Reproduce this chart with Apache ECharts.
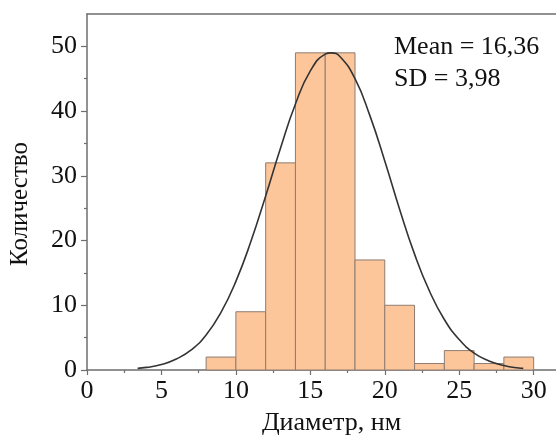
<!DOCTYPE html>
<html>
<head>
<meta charset="utf-8">
<script src="https://cdn.jsdelivr.net/npm/echarts@6/dist/echarts.min.js"></script>
<style>html,body{margin:0;padding:0;background:#fff}#c{width:556px;height:435px}</style>
</head>
<body>
<div id="c"></div>
<script>
const binStart = [8, 10, 12, 14, 16, 18, 20, 22, 24, 26, 28];
const binEnd   = [10, 12, 14, 16, 18, 20, 22, 24, 26, 28, 30];
const counts   = [2, 9, 32, 49, 49, 17, 10, 1, 3, 1, 2];
const curveX = [3.4, 4, 5, 6, 7, 8, 9, 10, 11, 12, 13, 14, 15, 16, 16.4, 17, 18, 19, 20, 21, 22, 23, 24, 25, 26, 27, 28, 29, 29.3];
const curveY = [0.25, 0.4, 0.85, 1.7, 3.1, 5.4, 8.9, 13.7, 19.8, 26.9, 34.3, 41.1, 46.2, 48.8, 49, 48.4, 45.0, 39.3, 32.3, 24.8, 17.9, 12.2, 7.8, 4.7, 2.6, 1.4, 0.7, 0.3, 0.25];
const xMajor = [0, 5, 10, 15, 20, 25, 30];
const xMinor = [2.5, 7.5, 12.5, 17.5, 22.5, 27.5];
const yMajor = [0, 10, 20, 30, 40, 50];
const yMinor = [5, 15, 25, 35, 45];
const xName = 'Диаметр, нм';
const yName = 'Количество';
const statLines = ['Mean = 16,36', 'SD = 3,98'];

const bins = binStart.map((s, i) => [s, binEnd[i], counts[i]]);
const curve = curveX.map((x, i) => [x, curveY[i]]);

const FONT = '"Liberation Serif", "Times New Roman", serif';
const AXC = '#6e6e6e';
const chart = echarts.init(document.getElementById('c'), null, {renderer: 'canvas'});
chart.setOption({
  animation: false,
  grid: {left: 87, top: 14, right: 0, bottom: 65, containLabel: false, outerBoundsMode: 'none'},
  xAxis: [
    {type: 'value', min: 0, max: 31.5, position: 'bottom',
     name: xName, nameLocation: 'middle', nameGap: 40,
     nameTextStyle: {fontFamily: FONT, fontSize: 26, color: '#111', padding: [0, 0, 0, 20]},
     axisLine: {show: true, lineStyle: {color: AXC, width: 1.5}},
     axisTick: {show: true, inside: false, length: 5, customValues: xMajor, lineStyle: {color: AXC, width: 1.2}},
     axisLabel: {customValues: xMajor, fontFamily: FONT, fontSize: 26, color: '#111', margin: 8},
     splitLine: {show: false}},
    {type: 'value', min: 0, max: 31.5, position: 'bottom', offset: 0,
     axisLine: {show: false},
     axisTick: {show: true, inside: false, length: 3, customValues: xMinor, lineStyle: {color: AXC, width: 1.2}},
     axisLabel: {show: false}, splitLine: {show: false}},
    {type: 'value', min: 0, max: 31.5, position: 'top',
     axisLine: {show: true, lineStyle: {color: AXC, width: 1.5}},
     axisTick: {show: false}, axisLabel: {show: false}, splitLine: {show: false}}
  ],
  yAxis: [
    {type: 'value', min: 0, max: 55, position: 'left',
     name: yName, nameLocation: 'middle', nameGap: 54, nameRotate: 90,
     nameTextStyle: {fontFamily: FONT, fontSize: 25, color: '#111', padding: [0, 24, 0, 0]},
     axisLine: {show: true, lineStyle: {color: AXC, width: 1.5}},
     axisTick: {show: true, inside: false, length: 6, customValues: yMajor, lineStyle: {color: AXC, width: 1.2}},
     axisLabel: {customValues: yMajor, fontFamily: FONT, fontSize: 26, color: '#111', margin: 10},
     splitLine: {show: false}},
    {type: 'value', min: 0, max: 55, position: 'left', offset: 0,
     axisLine: {show: false},
     axisTick: {show: true, inside: false, length: 3, customValues: yMinor, lineStyle: {color: AXC, width: 1.2}},
     axisLabel: {show: false}, splitLine: {show: false}}
  ],
  series: [
    {type: 'custom', xAxisIndex: 0, yAxisIndex: 0, data: bins,
     encode: {x: [0, 1], y: 2},
     renderItem: function (params, api) {
       const a = api.coord([api.value(0), 0]);
       const b = api.coord([api.value(1), api.value(2)]);
       return {type: 'rect',
         shape: {x: a[0], y: b[1], width: b[0] - a[0], height: a[1] - b[1]},
         style: {fill: '#FCC59A', stroke: '#8f7d72', lineWidth: 1}};
     }, z: 2},
    {type: 'line', xAxisIndex: 0, yAxisIndex: 0, data: curve, smooth: true, showSymbol: false,
     symbol: 'none', lineStyle: {color: '#333', width: 1.6}, z: 3}
  ],
  graphic: [
    {type: 'text', left: 394, top: 34, style: {text: statLines[0], font: '26px ' + FONT, fill: '#111'}},
    {type: 'text', left: 394, top: 66, style: {text: statLines[1], font: '26px ' + FONT, fill: '#111'}}
  ]
});
</script>
</body>
</html>
